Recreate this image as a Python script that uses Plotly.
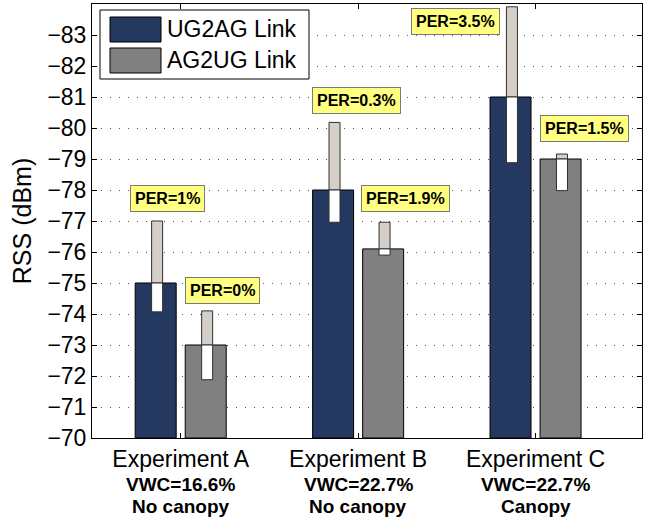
import plotly.graph_objects as go

# ---------------- data ----------------
categories = ["Experiment A", "Experiment B", "Experiment C"]
vwc_labels = ["VWC=16.6%", "VWC=22.7%", "VWC=22.7%"]
canopy_labels = ["No canopy", "No canopy", "Canopy"]

ug_rss = [-75.0, -78.0, -81.0]
ug_low = [-74.07, -76.96, -78.88]
ug_high = [-77.0, -80.18, -83.91]

ag_rss = [-73.0, -76.1, -79.0]
ag_low = [-71.88, -75.9, -77.98]
ag_high = [-74.1, -76.96, -79.16]

ug_per = ["PER=1%", "PER=0.3%", "PER=3.5%"]
ag_per = ["PER=0%", "PER=1.9%", "PER=1.5%"]

y_ticks = list(range(-70, -84, -1))

# ---------------- layout constants ----------------
BASE = -70
cat_pos = [1, 2, 3]
bar_off = 0.141
bar_w = 0.231
box_w = 0.062
box_shift = 0.008
FONT = "Liberation Sans, Arial, sans-serif"

ug_color = "#253860"
ag_color = "#808080"
box_gray = "#d4d0c8"

# label placement (offset from category, y in data units)
ug_lab_dx = [-0.072, -0.007, -0.452]
ug_lab_y = [-77.72, -80.9, -83.45]
ag_lab_dx = [0.235, 0.266, 0.276]
ag_lab_y = [-74.76, -77.71, -79.97]

fig = go.Figure()

def add_bar(xs, vals, color, width):
    fig.add_trace(go.Bar(
        x=xs, y=[v - BASE for v in vals], base=[BASE] * len(vals),
        width=width, marker=dict(color=color, line=dict(color="black", width=1)),
        showlegend=False, hoverinfo="skip"))

def add_box(xs, vals, lows, highs):
    # upper part (value -> high), light gray
    fig.add_trace(go.Bar(
        x=xs, y=[h - v for v, h in zip(vals, highs)], base=vals,
        width=box_w, marker=dict(color=box_gray, line=dict(color="#303030", width=1)),
        showlegend=False, hoverinfo="skip"))
    # lower part (low -> value), white
    fig.add_trace(go.Bar(
        x=xs, y=[v - l for v, l in zip(vals, lows)], base=lows,
        width=box_w, marker=dict(color="white", line=dict(color="#303030", width=1)),
        showlegend=False, hoverinfo="skip"))

ug_x = [c - bar_off for c in cat_pos]
ag_x = [c + bar_off for c in cat_pos]

add_bar(ug_x, ug_rss, ug_color, bar_w)
add_bar(ag_x, ag_rss, ag_color, bar_w)
add_box([x + box_shift for x in ug_x], ug_rss, ug_low, ug_high)
add_box([x + box_shift for x in ag_x], ag_rss, ag_low, ag_high)

annotations = []
for c, t, dx, y in list(zip(cat_pos, ug_per, ug_lab_dx, ug_lab_y)) + list(zip(cat_pos, ag_per, ag_lab_dx, ag_lab_y)):
    annotations.append(dict(x=c + dx, y=y, xref="x", yref="y", text="<b>%s</b>" % t,
                            showarrow=False, font=dict(family=FONT, size=16, color="black"),
                            bgcolor="#ffff80", bordercolor="#7a7a7a", borderwidth=1, borderpad=4))

# second & third lines of category labels
for c, v, cn in zip(cat_pos, vwc_labels, canopy_labels):
    annotations.append(dict(x=c, y=0, xref="x", yref="paper", yanchor="top",
                            text="<b>%s</b>" % v, showarrow=False, yshift=-34,
                            font=dict(family=FONT, size=19, color="black")))
    annotations.append(dict(x=c, y=0, xref="x", yref="paper", yanchor="top",
                            text="<b>%s</b>" % cn, showarrow=False, yshift=-56,
                            font=dict(family=FONT, size=19, color="black")))

# legend (drawn in paper coordinates)
W, H, L, T = 657, 522, 92, 4
PW, PH = 550, 434
def px(x):
    return (x - L) / PW
def py(y):
    return (T + PH - y) / PH

shapes = [
    dict(type="rect", xref="paper", yref="paper", x0=px(100), x1=px(309), y0=py(79), y1=py(10),
         fillcolor="white", line=dict(color="black", width=1)),
    dict(type="rect", xref="paper", yref="paper", x0=px(110), x1=px(161), y0=py(42), y1=py(17),
         fillcolor=ug_color, line=dict(color="black", width=1)),
    dict(type="rect", xref="paper", yref="paper", x0=px(110), x1=px(161), y0=py(73), y1=py(48),
         fillcolor=ag_color, line=dict(color="black", width=1)),
]
annotations.append(dict(x=px(165), y=py(29.5), xref="paper", yref="paper", xanchor="left",
                        yanchor="middle", text="UG2AG Link", showarrow=False,
                        font=dict(family=FONT, size=23, color="black")))
annotations.append(dict(x=px(165), y=py(60.5), xref="paper", yref="paper", xanchor="left",
                        yanchor="middle", text="AG2UG Link", showarrow=False,
                        font=dict(family=FONT, size=23, color="black")))

fig.update_layout(
    width=W, height=H,
    margin=dict(l=L, r=W - L - PW, t=T, b=H - T - PH),
    paper_bgcolor="white", plot_bgcolor="white",
    barmode="overlay",
    font=dict(family=FONT, size=23, color="black"),
    annotations=annotations, shapes=shapes,
    showlegend=False,
    xaxis=dict(range=[0.5, 3.6], tickmode="array", tickvals=cat_pos, ticktext=categories,
               ticks="inside", ticklen=5, tickcolor="black", showline=True, linecolor="black",
               linewidth=1, mirror="ticks", showgrid=False, zeroline=False,
               tickfont=dict(family=FONT, size=23, color="black")),
    yaxis=dict(range=[-70, -84], tickmode="array", tickvals=y_ticks,
               ticks="inside", ticklen=5, tickcolor="black", showline=True, linecolor="black",
               linewidth=1, mirror="ticks", showgrid=True, gridcolor="#555555", gridwidth=1,
               griddash="1px,8px", zeroline=False,
               title=dict(text="RSS (dBm)", standoff=8, font=dict(family=FONT, size=25, color="black")),
               tickfont=dict(family=FONT, size=23, color="black")),
)

fig.write_html("out.html")
